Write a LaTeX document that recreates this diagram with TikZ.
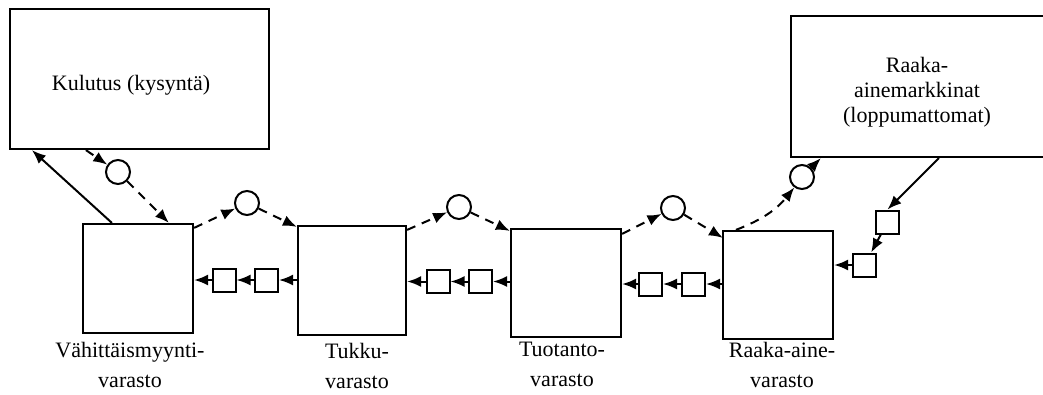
\documentclass[tikz,border=0pt]{standalone}
\usepackage{fontspec}
\setmainfont{Liberation Serif}
\usetikzlibrary{arrows.meta,calc}
\begin{document}
\begin{tikzpicture}[x=1pt,y=-1pt,
  box/.style={draw,line width=2.2pt,rectangle,inner sep=0pt},
  sq/.style={draw,line width=2pt,rectangle,minimum size=23pt,inner sep=0pt},
  circ/.style={draw,line width=2pt,circle,minimum size=24pt,inner sep=0pt},
  flow/.style={line width=2pt,-{Latex[length=14pt,width=11pt]}},
  info/.style={flow,dash pattern=on 9pt off 7pt},
  lbl/.style={font=\fontsize{22}{30}\selectfont,align=center,inner sep=0pt}
]
\useasboundingbox (0,0) rectangle (1043,394);

% big boxes
\node[box,minimum width=259pt,minimum height=140pt] (kul) at (139.5,79) {};
\node[box,minimum width=270pt,minimum height=141pt] (mkt) at (926,86.5) {};
\node[lbl] (kultxt) at (131,85) {Kulutus (kysyntä)};
\node[lbl,font=\fontsize{22}{25}\selectfont] (mkttxt) at (917,92) {Raaka-\\ainemarkkinat\\(loppumattomat)};

% stores
\node[box,minimum width=110pt,minimum height=109pt] (ret) at (138,278.5) {};
\node[box,minimum width=108pt,minimum height=109pt] (tuk) at (352,280.5) {};
\node[box,minimum width=110pt,minimum height=108pt] (tuo) at (566,283) {};
\node[box,minimum width=110pt,minimum height=108pt] (raa) at (778,285) {};

\node[lbl,anchor=north] (retl) at (130,342) {Vähittäismyynti-\\varasto};
\node[lbl,anchor=north] (tukl) at (357,343) {Tukku-\\varasto};
\node[lbl,anchor=north] (tuol) at (562,342) {Tuotanto-\\varasto};
\node[lbl,anchor=north] (raal) at (782,342) {Raaka-aine-\\varasto};

% small squares
\node[sq] (s1) at (224,280) {};
\node[sq] (s2) at (266.5,280) {};
\node[sq] (s3) at (438,281.5) {};
\node[sq] (s4) at (480.5,281.5) {};
\node[sq] (s5) at (650.5,284) {};
\node[sq] (s6) at (693.5,284) {};
\node[sq] (s7) at (887.5,222) {};
\node[sq] (s8) at (864.5,265) {};

% circles
\node[circ] (c1) at (118,172) {};
\node[circ] (c2) at (247,203) {};
\node[circ] (c3) at (459,207) {};
\node[circ] (c4) at (673,208) {};
\node[circ] (c5) at (802,177) {};

% information flow (dashed)
\draw[info] ($(kul.south west)+(77,0)$) -- (c1);
\draw[info] (c1) -- ($(ret.north west)+(87,0)$);
\draw[info] ($(ret.north east)+(0,5)$) -- (c2);
\draw[info] (c2) -- ($(tuk.north west)+(0,2)$);
\draw[info] ($(tuk.north east)+(0,5)$) -- (c3);
\draw[info] (c3) -- ($(tuo.north west)+(0,3)$);
\draw[info] ($(tuo.north east)+(0,6)$) -- (c4);
\draw[info] (c4) -- ($(raa.north west)+(1,8)$);
\draw[info] ($(raa.north west)+(14,0)$) to[bend right=15] (c5);
\draw[info] (c5) -- ($(mkt.south west)+(31,0)$);

% material flow (solid)
\draw[flow] ($(ret.north west)+(30,0)$) -- ($(kul.south west)+(23,0)$);
\draw[flow] ($(mkt.south west)+(149,0)$) -- (s7.north);
\draw[flow] (s7) -- (s8);
\draw[flow] (s8) -- (s8 -| raa.east);
\draw[flow] (raa.west |- s6) -- (s6);
\draw[flow] (s6) -- (s5);
\draw[flow] (s5) -- (s5 -| tuo.east);
\draw[flow] (tuo.west |- s4) -- (s4);
\draw[flow] (s4) -- (s3);
\draw[flow] (s3) -- (s3 -| tuk.east);
\draw[flow] (tuk.west |- s2) -- (s2);
\draw[flow] (s2) -- (s1);
\draw[flow] (s1) -- (s1 -| ret.east);
\end{tikzpicture}
\end{document}
